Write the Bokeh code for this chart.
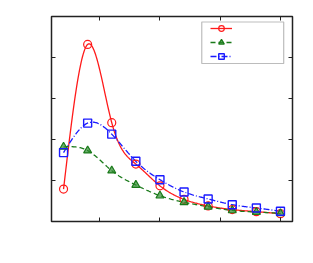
import numpy as np
from bokeh.plotting import figure
from bokeh.models import (Range1d, FixedTicker, LinearAxis, Legend, LegendItem,
                          BoxAnnotation, ColumnDataSource)
from bokeh.embed import file_html
from bokeh.resources import INLINE

# ---- data ----
x_vals = [0.4, 0.8, 1.2, 1.6, 2.0, 2.4, 2.8, 3.2, 3.6, 4.0]
red_vals = [0.79, 4.32, 2.41, 1.40, 0.87, 0.54, 0.38, 0.29, 0.24, 0.19]
green_vals = [1.82, 1.73, 1.24, 0.89, 0.63, 0.47, 0.36, 0.27, 0.23, 0.20]
blue_vals = [1.68, 2.40, 2.13, 1.47, 1.02, 0.72, 0.55, 0.41, 0.33, 0.25]
x_ticks = [1, 2, 3, 4]
y_ticks = [1, 2, 3, 4]


def smooth(xs, ys, n=300):
    """Natural cubic spline through the points (for drawing the curve only)."""
    xs = np.asarray(xs, float)
    ys = np.asarray(ys, float)
    m = len(xs)
    h = np.diff(xs)
    A = np.zeros((m, m))
    r = np.zeros(m)
    A[0, 0] = A[-1, -1] = 1
    for i in range(1, m - 1):
        A[i, i - 1] = h[i - 1]
        A[i, i] = 2 * (h[i - 1] + h[i])
        A[i, i + 1] = h[i]
        r[i] = 6 * ((ys[i + 1] - ys[i]) / h[i] - (ys[i] - ys[i - 1]) / h[i - 1])
    M = np.linalg.solve(A, r)
    xx = np.linspace(xs[0], xs[-1], n)
    idx = np.clip(np.searchsorted(xs, xx) - 1, 0, m - 2)
    x0, x1 = xs[idx], xs[idx + 1]
    hh = x1 - x0
    a = (x1 - xx) / hh
    b = (xx - x0) / hh
    yy = (a * ys[idx] + b * ys[idx + 1]
          + ((a ** 3 - a) * M[idx] + (b ** 3 - b) * M[idx + 1]) * hh ** 2 / 6)
    return xx, yy


p = figure(frame_width=241, frame_height=205, output_backend="svg",
           toolbar_location=None, x_range=Range1d(0.2, 4.2), y_range=Range1d(0, 5),
           min_border_left=51, min_border_top=16, min_border_right=10,
           min_border_bottom=30, x_axis_location=None, y_axis_location=None)
p.grid.visible = False
p.outline_line_color = "#222222"
p.outline_line_width = 1.5
p.background_fill_color = "white"

for loc, ticks in (("below", x_ticks), ("above", x_ticks), ("left", y_ticks), ("right", y_ticks)):
    ax = LinearAxis(ticker=FixedTicker(ticks=ticks))
    ax.axis_line_color = None
    ax.major_tick_in = 4
    ax.major_tick_out = 0
    ax.minor_tick_in = 0
    ax.minor_tick_out = 0
    ax.major_tick_line_color = "#222222"
    ax.major_tick_line_width = 1
    ax.major_label_overrides = {t: "" for t in ticks}
    ax.major_label_standoff = 0
    p.add_layout(ax, loc)

red = "#ff1a1a"
green = "#1a7a1a"
blue = "#1a1aff"

src = ColumnDataSource(dict(x=x_vals, r=red_vals, g=green_vals, b=blue_vals))

rx, ry = smooth(x_vals, red_vals)
gx, gy = smooth(x_vals, green_vals)
bx, by = smooth(x_vals, blue_vals)

lr = p.line(rx, ry, line_color=red, line_width=1.3)
lg = p.line(gx, gy, line_color=green, line_width=1.3, line_dash="5 3")
lb = p.line(bx, by, line_color=blue, line_width=1.3, line_dash="6 2 1 2")

mr = p.scatter("x", "r", source=src, marker="circle", size=8, line_color=red,
               fill_color=None, line_width=1.2)
mg = p.scatter("x", "g", source=src, marker="triangle", size=8, line_color=green,
               fill_color="#2e8b2e", fill_alpha=0.7, line_width=1.2)
mb = p.scatter("x", "b", source=src, marker="square", size=8, line_color=blue,
               fill_color=None, line_width=1.4)

box = BoxAnnotation(left=2.694, right=4.054, bottom=3.854, top=4.866,
                    fill_color="white", fill_alpha=1.0, line_color="#222222",
                    line_width=1.2, level="overlay")
p.add_layout(box)

legend = Legend(items=[LegendItem(label="", renderers=[lr, mr]),
                       LegendItem(label="", renderers=[lg, mg]),
                       LegendItem(label="", renderers=[lb, mb])],
                location=(159, 158), padding=0, spacing=0, margin=0,
                glyph_width=22, glyph_height=14, label_height=14, label_width=44,
                label_standoff=0, border_line_alpha=0, background_fill_alpha=0)
p.add_layout(legend)

open("out.html", "w").write(file_html(p, INLINE))
